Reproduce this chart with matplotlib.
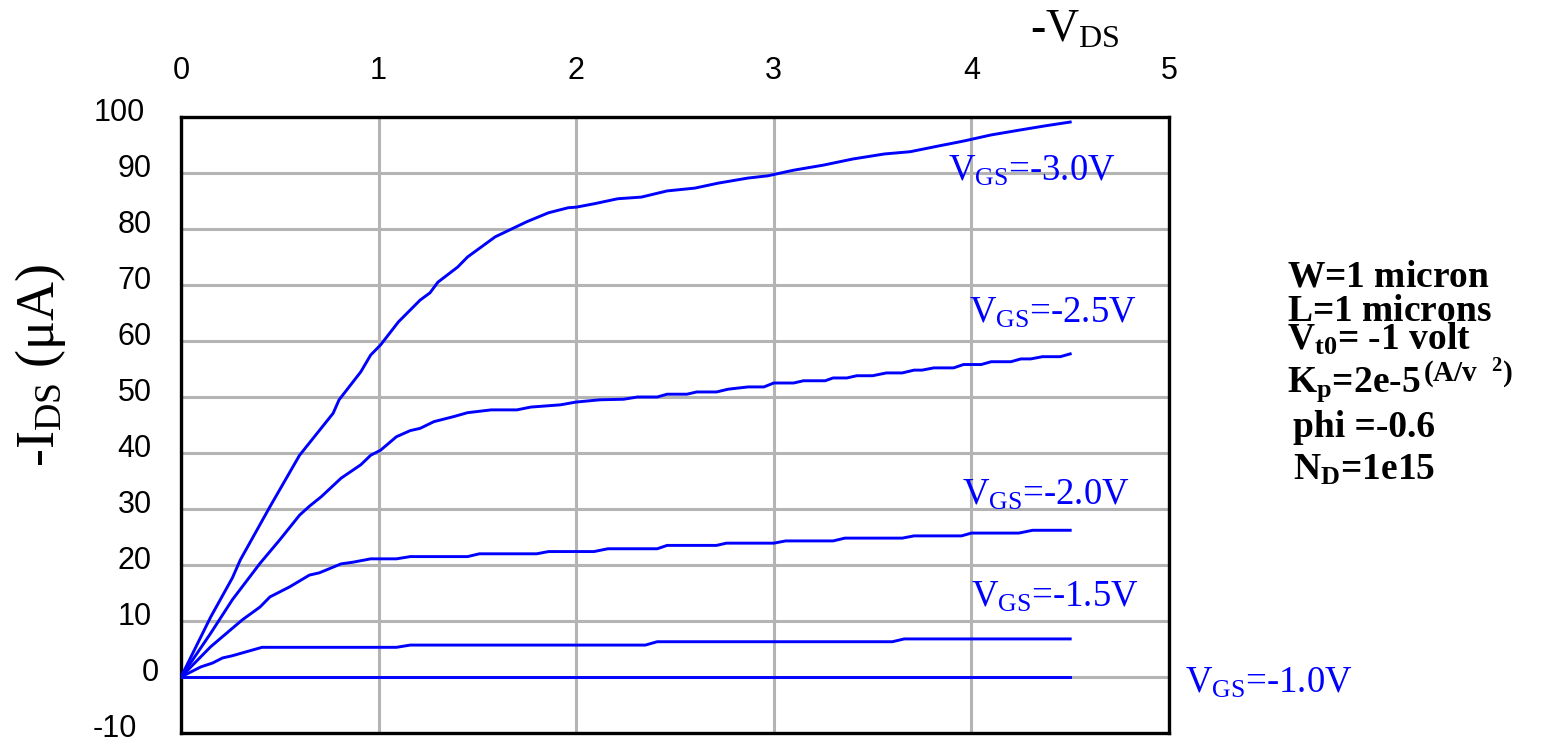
"""
PMOS output characteristics: -I_DS versus -V_DS for five gate voltages.
"""

import matplotlib
matplotlib.use("Agg")
import matplotlib.pyplot as plt
from matplotlib.transforms import ScaledTranslation

plt.rcParams["font.family"] = ["Liberation Sans", "DejaVu Sans"]
plt.rcParams["axes.unicode_minus"] = False
plt.rcParams["mathtext.fontset"] = "custom"
plt.rcParams["mathtext.rm"] = "Liberation Serif"
plt.rcParams["mathtext.it"] = "Liberation Serif:italic"
plt.rcParams["mathtext.bf"] = "Liberation Serif:bold"

BLUE = "#0000ff"
GRID = "#b4b4b4"
SERIF = ["Liberation Serif", "DejaVu Serif"]

# values (V, uA)
vds_30 = [0, 0.15, 0.26, 0.30, 0.45, 0.60, 0.77, 0.80, 0.91, 0.96, 1.01, 1.10,
          1.21, 1.26, 1.30, 1.40, 1.45, 1.59, 1.75, 1.86, 1.96, 2.00, 2.09, 2.21,
          2.33, 2.46, 2.60, 2.72, 2.87, 2.97, 3.10, 3.25, 3.40, 3.56, 3.69, 3.83,
          3.96, 4.10, 4.25, 4.37, 4.50]
ids_30 = [0, 10.7, 17.7, 20.9, 30.4, 39.6, 47.1, 49.5, 54.5, 57.5, 59.3, 63.4,
          67.3, 68.6, 70.5, 73.2, 75.0, 78.6, 81.3, 82.9, 83.8, 83.9, 84.5, 85.4,
          85.7, 86.8, 87.3, 88.2, 89.1, 89.5, 90.5, 91.4, 92.5, 93.4, 93.8, 94.8,
          95.7, 96.8, 97.7, 98.4, 99.1]

vds_25 = [0, 0.15, 0.26, 0.40, 0.50, 0.60, 0.65, 0.71, 0.81, 0.91, 0.96, 1.01,
          1.09, 1.16, 1.21, 1.28, 1.38, 1.45, 1.57, 1.70, 1.77, 1.92, 2.00, 2.12,
          2.24, 2.31, 2.41, 2.46, 2.56, 2.61, 2.71, 2.77, 2.87, 2.95, 3.00, 3.10,
          3.15, 3.26, 3.30, 3.37, 3.42, 3.50, 3.57, 3.65, 3.71, 3.75, 3.81, 3.91,
          3.96, 4.05, 4.10, 4.20, 4.25, 4.30, 4.36, 4.45, 4.50]
ids_25 = [0, 7.8, 13.8, 20.3, 24.5, 28.9, 30.5, 32.2, 35.5, 37.9, 39.6, 40.5,
          42.9, 44.0, 44.4, 45.6, 46.5, 47.2, 47.7, 47.7, 48.2, 48.6, 49.1, 49.5,
          49.6, 50.0, 50.0, 50.5, 50.5, 50.9, 50.9, 51.4, 51.8, 51.8, 52.5, 52.5,
          52.9, 52.9, 53.4, 53.4, 53.8, 53.8, 54.3, 54.3, 54.8, 54.8, 55.2, 55.2,
          55.8, 55.8, 56.3, 56.3, 56.8, 56.8, 57.2, 57.2, 57.7]

vds_20 = [0, 0.15, 0.26, 0.31, 0.40, 0.45, 0.55, 0.65, 0.70, 0.81, 0.87, 0.96,
          1.09, 1.16, 1.45, 1.51, 1.80, 1.86, 2.09, 2.16, 2.41, 2.46, 2.71, 2.76,
          3.00, 3.06, 3.30, 3.36, 3.65, 3.71, 3.95, 4.00, 4.24, 4.31, 4.50]
ids_20 = [0, 5.4, 8.7, 10.2, 12.5, 14.3, 16.1, 18.2, 18.6, 20.2, 20.5, 21.1,
          21.1, 21.5, 21.5, 22.0, 22.0, 22.4, 22.4, 22.9, 22.9, 23.5, 23.5, 23.9,
          23.9, 24.3, 24.3, 24.8, 24.8, 25.2, 25.2, 25.7, 25.7, 26.2, 26.2]

vds_15 = [0, 0.10, 0.16, 0.21, 0.26, 0.35, 0.41, 1.09, 1.16, 2.35, 2.41, 3.60,
          3.66, 4.50]
ids_15 = [0, 1.8, 2.5, 3.4, 3.8, 4.7, 5.3, 5.3, 5.7, 5.7, 6.3, 6.3, 6.8, 6.8]

vds_10 = [0, 4.5]
ids_10 = [0, 0]

curves = [(vds_30, ids_30), (vds_25, ids_25), (vds_20, ids_20),
          (vds_15, ids_15), (vds_10, ids_10)]

# curve labels: text, x, baseline y (data units)
curve_labels = [("-3.0V", 3.88, 88.7), ("-2.5V", 3.99, 63.2),
                ("-2.0V", 3.95, 30.7), ("-1.5V", 4.00, 12.5),
                ("-1.0V", 5.08, -2.7)]

param_lines = [r"$\mathbf{W}$=1 micron",
               r"$\mathbf{L}$=1 microns",
               r"$\mathbf{V_{t0}}$= -1 volt",
               r"$\mathbf{K_{p}}$=2e-5",
               r"phi =-0.6",
               r"$\mathbf{N_{D}}$=1e15"]
param_x = [1287, 1287, 1287, 1287, 1293, 1293]
param_base = [287, 321, 350, 392, 437, 480]

W, H = 1559, 738
fig = plt.figure(figsize=(W / 100, H / 100), dpi=100)
ax = fig.add_axes([181 / W, 1 - 733 / H, (1169 - 181) / W, (733 - 117) / H])

for x, y in curves:
    ax.plot(x, y, color=BLUE, lw=2.1, zorder=3)

ax.set_xlim(0, 5)
ax.set_ylim(-10, 100)
ax.set_xticks(range(0, 6))
ax.set_yticks(range(-10, 101, 10))
ax.xaxis.tick_top()
ax.tick_params(axis="both", length=0, labelsize=22)
ax.tick_params(axis="x", pad=22)
ax.tick_params(axis="y", pad=21)
ax.grid(True, color=GRID, lw=2.2, zorder=0)
for s in ax.spines.values():
    s.set_linewidth(2.4)
    s.set_color("black")

# y tick labels in the original sit a bit high and are not quite aligned
dx_px = {100: -7, 0: 7, -10: -15}
for val, lab in zip(ax.get_yticks(), ax.get_yticklabels()):
    dx = dx_px.get(int(val), 0)
    lab.set_transform(lab.get_transform()
                      + ScaledTranslation(dx / 100, 7.5 / 100, fig.dpi_scale_trans))

for txt, x, y in curve_labels:
    ax.text(x, y, r"$\mathrm{V_{GS}}$=" + txt, color=BLUE, fontsize=26.5,
            family=SERIF, ha="left", va="baseline", clip_on=False, zorder=4)

fig.text(1030 / W, 1 - 42 / H, r"-$\mathrm{V_{DS}}$", fontsize=33,
         family=SERIF, ha="left", va="baseline")
fig.text(40 / W, 1 - 365 / H, r"-$\mathrm{I_{DS}}$ ($\mathrm{\mu}$A)",
         fontsize=39, family=SERIF, rotation=90, ha="center", va="center")

for txt, x, y in zip(param_lines, param_x, param_base):
    fig.text(x / W, 1 - y / H, txt, fontsize=27, family=SERIF,
             fontweight="bold", ha="left", va="baseline")
fig.text(1423 / W, 1 - 382 / H, r"(A/v  $^{\mathbf{2}}$)", fontsize=21,
         family=SERIF, fontweight="bold", ha="left", va="baseline")

fig.savefig("out.png", dpi=100)
